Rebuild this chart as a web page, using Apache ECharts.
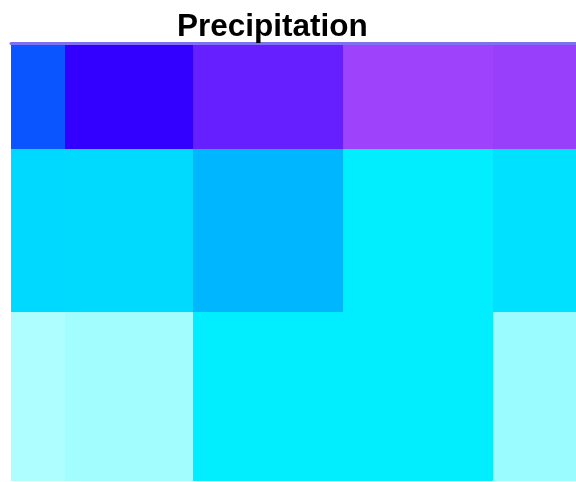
<!DOCTYPE html>
<html>
<head>
<meta charset="utf-8">
<script src="https://cdn.jsdelivr.net/npm/echarts@6/dist/echarts.min.js"></script>
<style>
  html, body { margin: 0; padding: 0; background: #ffffff; }
  #chart { width: 576px; height: 482px; }
</style>
</head>
<body>
<div id="chart"></div>
<script>
// Cell boundaries along each axis (non-uniform mesh)
const xEdges = [0, 1.0, 3.4, 6.2, 9.0, 10.55];
const yEdges = [0, 17, 33.4, 44];

// Precipitation level per cell, rows listed bottom to top
const precipRows = [
  [0.05, 0.12, 1.0, 1.0, 0.16],
  [1.35, 1.33, 1.93, 1.0, 1.23],
  [3.0, 4.0, 5.0, 6.0, 5.9]
];

// Colour scale stops from low to high precipitation
const colorStops = ['#b8ffff', '#00eeff', '#00b2ff', '#0a55ff', '#3300ff', '#6620ff', '#9e42fc'];

const cells = [];
precipRows.forEach((row, r) => {
  row.forEach((v, c) => {
    cells.push([xEdges[c], xEdges[c + 1], yEdges[r], yEdges[r + 1], v]);
  });
});

const chart = echarts.init(document.getElementById('chart'), null, { renderer: 'canvas' });

chart.setOption({
  animation: false,
  title: {
    text: 'Precipitation',
    left: 172,
    top: 6,
    textStyle: {
      fontFamily: 'Liberation Sans, Arial, sans-serif',
      fontWeight: 'bold',
      fontSize: 31.5,
      color: '#000000'
    }
  },
  grid: { left: 11, right: 0, top: 43, bottom: 1 },
  xAxis: {
    type: 'value',
    position: 'top',
    min: xEdges[0],
    max: xEdges[xEdges.length - 1],
    z: 5,
    axisLine: { show: true, onZero: false, lineStyle: { color: '#7f70f2', width: 3 } },
    axisTick: { show: false },
    axisLabel: { show: false },
    splitLine: { show: false }
  },
  yAxis: {
    type: 'value',
    min: yEdges[0],
    max: yEdges[yEdges.length - 1],
    axisLine: { show: false },
    axisTick: { show: false },
    axisLabel: { show: false },
    splitLine: { show: false }
  },
  visualMap: {
    show: false,
    type: 'continuous',
    dimension: 4,
    min: 0,
    max: colorStops.length - 1,
    inRange: { color: colorStops }
  },
  series: [{
    type: 'custom',
    data: cells,
    encode: { x: [0, 1], y: [2, 3] },
    z: 1,
    renderItem: function (params, api) {
      const p0 = api.coord([api.value(0), api.value(3)]);
      const p1 = api.coord([api.value(1), api.value(2)]);
      const x0 = Math.round(p0[0]), y0 = Math.round(p0[1]);
      const x1 = Math.round(p1[0]), y1 = Math.round(p1[1]);
      return {
        type: 'rect',
        shape: { x: x0, y: y0, width: x1 - x0, height: y1 - y0 },
        style: { fill: api.visual('color') }
      };
    }
  }]
});
</script>
</body>
</html>
